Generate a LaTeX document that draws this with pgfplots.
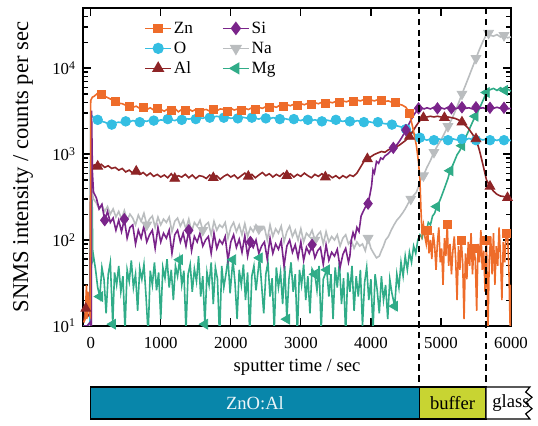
\documentclass[border=0pt]{standalone}
\usepackage{pgfplots}
\pgfplotsset{compat=1.18}
\usepackage{fontspec}
\setmainfont{Liberation Serif}
\definecolor{cZn}{RGB}{238,108,42}
\definecolor{cO}{RGB}{52,190,226}
\definecolor{cAl}{RGB}{142,36,38}
\definecolor{cSi}{RGB}{122,36,138}
\definecolor{cNa}{RGB}{186,189,191}
\definecolor{cMg}{RGB}{48,172,136}
\definecolor{cZnO}{RGB}{8,134,170}
\definecolor{cBuf}{RGB}{200,212,50}
\pgfplotsset{
  lZn/.style={color=cZn, line width=0.8pt, no markers},
  lO/.style={color=cO, line width=0.8pt, no markers},
  lAl/.style={color=cAl, line width=0.8pt, no markers},
  lSi/.style={color=cSi, line width=0.8pt, no markers},
  lNa/.style={color=cNa, line width=0.8pt, no markers},
  lMg/.style={color=cMg, line width=0.8pt, no markers},
  mZn/.style={color=cZn, mark=square*, mark size=2pt, mark options={solid, fill=cZn}},
  mO/.style={color=cO, mark=*, mark size=2.4pt, mark options={solid, fill=cO}},
  mAl/.style={color=cAl, mark=triangle*, mark size=2.8pt, mark options={solid, fill=cAl}},
  mSi/.style={color=cSi, mark=diamond*, mark size=2.8pt, mark options={solid, fill=cSi}},
  mNa/.style={color=cNa, mark=triangle*, mark size=2.8pt, mark options={solid, fill=cNa, rotate=180}},
  mMg/.style={color=cMg, mark=triangle*, mark size=2.8pt, mark options={solid, fill=cMg, rotate=90}},
}
\begin{document}
\begin{tikzpicture}[x=1pt,y=1pt]
\useasboundingbox (-41.5,-50) rectangle (227.5,163);
\begin{axis}[
  at={(0pt,0pt)}, anchor=south west,
  scale only axis, width=214pt, height=159pt,
  xmin=-110, xmax=6000,
  ymode=log, ymin=10, ymax=5e4,
  axis line style={line width=0.7pt},
  every tick/.style={black, line width=0.6pt},
  xtick={0,1000,2000,3000,4000,5000,6000},
  xticklabels={0,1000,2000,3000,4000,5000,6000},
  ytick={10,100,1000,10000},
  yticklabels={10\textsuperscript{1},10\textsuperscript{2},10\textsuperscript{3},10\textsuperscript{4}},
  minor ytick={20,30,40,50,60,70,80,90,200,300,400,500,600,700,800,900,2000,3000,4000,5000,6000,7000,8000,9000,20000,30000,40000},
  tick align=inside,
  major tick length=4pt, minor tick length=2.5pt,
  ticklabel style={font=\fontsize{8.4}{10}\selectfont},
  xticklabel style={yshift=-2pt},
  xlabel={sputter time / sec},
  ylabel={SNMS intensity / counts per sec},
  xlabel style={font=\fontsize{9.3}{11}\selectfont, at={(axis description cs:0.5,-0.129)}, anchor=center},
  ylabel style={font=\fontsize{11.3}{13}\selectfont, at={(axis description cs:-0.14,0.5)}, anchor=center},
  legend image code/.code={\draw[mark repeat=2, mark phase=2, line width=0.8pt, #1] plot coordinates {(0pt,0pt) (6.5pt,0pt) (13pt,0pt)};},
  legend columns=2,
  legend cell align=left,
  legend style={at={(axis description cs:0.1425,0.9686)}, anchor=north west, draw=none, fill=none, inner sep=0pt,
    font=\fontsize{8.6}{10}\selectfont, row sep=0pt,
    nodes={inner sep=1pt, text height=6.5pt, text depth=1.5pt},
    /tikz/every even column/.append style={column sep=13.5pt}},
]
\addlegendimage{mZn}
\addlegendimage{mSi}
\addlegendimage{mO}
\addlegendimage{mNa}
\addlegendimage{mAl}
\addlegendimage{mMg}
\legend{Zn,Si,O,Na,Al,Mg}

% ---------------- Mg ----------------
\addplot[lMg, forget plot] coordinates {
(-100,10)(-50,10)(-10,10)(5,11)(12,1500)(20,300)(30,60)(40,65)(70,45)(100,28)(130,22)(160,48)(190,35)(220,14)(250,40)(280,55)(315,10.5)(340,42)(370,30)(400,50)(430,25)(460,38)(490,9)(520,45)(550,33)(580,58)(610,28)(640,40)(670,15)(700,47)(730,35)(760,52)(790,22)(820,8)(850,44)(880,30)(910,55)(940,26)(970,42)(1000,12)(1030,48)(1060,36)(1090,60)(1120,28)(1150,45)(1180,20)(1210,50)(1240,38)(1270,59)(1300,30)(1330,44)(1360,9)(1390,40)(1420,52)(1450,25)(1480,46)(1510,33)(1540,65)(1570,22)(1600,38)(1630,10.5)(1660,42)(1690,30)(1720,55)(1750,18)(1780,48)(1810,35)(1840,7)(1870,50)(1900,28)(1930,40)(1960,60)(1990,24)(2030,59)(2060,32)(2090,12)(2120,45)(2150,30)(2180,52)(2210,20)(2240,42)(2270,8)(2300,38)(2330,50)(2360,26)(2390,44)(2410,62)(2440,30)(2470,14)(2500,40)(2530,55)(2560,22)(2590,36)(2620,9)(2650,48)(2680,28)(2710,42)(2740,18)(2770,50)(2800,12)(2830,35)(2860,55)(2890,25)(2920,40)(2950,8)(2980,45)(3010,30)(3040,52)(3070,20)(3100,38)(3130,14)(3160,46)(3200,40)(3230,26)(3260,50)(3290,9)(3320,35)(3370,45)(3400,22)(3430,40)(3460,12)(3490,48)(3520,28)(3550,55)(3580,18)(3610,36)(3640,8)(3670,42)(3700,25)(3730,50)(3760,15)(3790,38)(3820,22)(3850,45)(3880,10)(3910,32)(3940,48)(3970,20)(4000,35)(4030,9)(4060,40)(4090,26)(4120,14)(4150,38)(4180,20)(4210,30)(4240,12)(4270,35)(4300,24)(4340,17)(4370,40)(4400,28)(4430,55)(4460,38)(4490,65)(4520,45)(4550,72)(4580,55)(4610,85)(4640,70)(4670,100)(4700,115)(4730,105)(4760,135)(4790,125)(4820,160)(4850,150)(4880,190)(4910,205)(4940,245)(4970,270)(5000,310)(5050,400)(5100,520)(5130,640)(5180,780)(5230,980)(5270,1100)(5300,1250)(5350,1550)(5400,1900)(5450,2350)(5490,2750)(5550,3400)(5600,4200)(5650,5200)(5700,5600)(5750,5800)(5800,5500)(5850,5900)(5910,5500)(5950,5700)(6000,5400)
};
\addplot[mMg, only marks, forget plot] coordinates {
(130,22)(315,10.5)(1270,59)(1630,10.5)(2030,59)(2410,62)(2800,12)(3200,40)(3370,45)(4340,17)(4940,245)(5130,640)(5300,1250)(5490,2750)(5650,5200)(5910,5500)
};

% ---------------- Na ----------------
\addplot[lNa, forget plot] coordinates {
(-100,10)(-30,10)(8,10)(14,500)(30,330)(40,300)(80,270)(120,230)(160,255)(200,215)(240,245)(280,200)(320,230)(360,185)(400,215)(440,175)(480,220)(520,170)(560,200)(600,180)(640,150)(680,195)(720,165)(760,205)(800,150)(840,175)(880,190)(920,140)(960,185)(1000,150)(1040,175)(1080,160)(1120,185)(1160,125)(1200,165)(1240,180)(1280,145)(1320,170)(1360,135)(1400,175)(1440,125)(1480,160)(1520,145)(1560,170)(1600,130)(1640,150)(1680,160)(1720,115)(1760,165)(1800,130)(1840,150)(1880,140)(1920,160)(1960,105)(2000,140)(2040,160)(2080,125)(2120,150)(2160,115)(2200,155)(2240,110)(2280,140)(2320,125)(2360,150)(2400,135)(2440,130)(2480,140)(2520,100)(2560,150)(2600,110)(2640,135)(2680,120)(2720,145)(2760,95)(2800,125)(2840,145)(2880,110)(2920,130)(2960,100)(3000,135)(3040,95)(3080,120)(3120,110)(3160,130)(3200,100)(3240,115)(3280,125)(3320,90)(3360,125)(3400,95)(3440,110)(3480,100)(3520,115)(3560,85)(3600,105)(3640,115)(3680,90)(3720,100)(3760,80)(3800,95)(3840,85)(3880,90)(3920,75)(3960,105)(4000,80)(4040,70)(4080,62)(4120,65)(4150,75)(4180,85)(4210,100)(4250,110)(4290,130)(4330,150)(4370,170)(4410,185)(4450,205)(4490,230)(4530,265)(4570,300)(4610,330)(4650,360)(4680,420)(4710,500)(4750,560)(4800,700)(4850,840)(4900,1050)(4950,1250)(5000,1450)(5050,1750)(5100,2100)(5150,2500)(5200,3100)(5250,3900)(5300,5000)(5350,6300)(5400,8000)(5450,10200)(5500,13000)(5550,16500)(5600,20500)(5650,24500)(5680,25500)(5710,24000)(5750,23500)(5800,24500)(5850,23000)(5900,24000)(5950,22500)(6000,23000)
};
\addplot[mNa, only marks, forget plot] coordinates {
(800,150)(1600,130)(2400,135)(3200,100)(3960,105)(4570,300)(4750,560)(4900,1050)(5100,2100)(5300,5000)(5500,13000)(5680,25500)(5900,24000)
};

% ---------------- O ----------------
\addplot[lO, forget plot] coordinates {
(-100,10)(-50,10)(-10,11)(0,2900)(50,2600)(100,2500)(150,2400)(200,2350)(250,2250)(300,2200)(350,2300)(400,2350)(450,2300)(500,2400)(550,2350)(600,2450)(650,2400)(700,2350)(750,2450)(800,2400)(850,2500)(900,2450)(950,2400)(1000,2500)(1050,2450)(1100,2550)(1150,2500)(1200,2450)(1250,2550)(1300,2500)(1350,2600)(1400,2550)(1450,2600)(1500,2550)(1550,2650)(1600,2600)(1650,2700)(1700,2650)(1750,2700)(1800,2750)(1850,2700)(1900,2650)(1950,2700)(2000,2600)(2050,2650)(2100,2600)(2150,2700)(2200,2650)(2250,2600)(2300,2650)(2350,2600)(2400,2550)(2450,2650)(2500,2600)(2550,2550)(2600,2650)(2650,2600)(2700,2550)(2750,2600)(2800,2550)(2850,2500)(2900,2550)(2950,2500)(3000,2450)(3050,2550)(3100,2500)(3150,2450)(3200,2500)(3250,2450)(3300,2400)(3350,2500)(3400,2450)(3450,2400)(3500,2500)(3550,2450)(3600,2400)(3650,2450)(3700,2400)(3750,2350)(3800,2450)(3850,2400)(3900,2350)(3950,2400)(4000,2350)(4050,2300)(4100,2350)(4150,2300)(4200,2250)(4250,2250)(4300,2200)(4350,2150)(4400,2100)(4450,2050)(4500,1950)(4550,1850)(4600,1750)(4650,1650)(4700,1550)(4750,1500)(4800,1450)(4850,1500)(4900,1450)(4950,1520)(5000,1470)(5050,1500)(5100,1450)(5150,1520)(5200,1480)(5250,1450)(5300,1500)(5350,1460)(5400,1520)(5450,1470)(5500,1450)(5550,1500)(5600,1460)(5650,1500)(5700,1450)(5750,1480)(5800,1440)(5850,1490)(5900,1450)(5950,1470)(6000,1430)
};
\addplot[mO, only marks, forget plot] coordinates {
(100,2500)(300,2200)(500,2400)(700,2350)(900,2450)(1100,2550)(1300,2500)(1500,2550)(1700,2650)(1900,2650)(2100,2600)(2300,2650)(2500,2600)(2700,2550)(2900,2550)(3100,2500)(3300,2400)(3500,2500)(3700,2400)(3900,2350)(4100,2350)(4300,2200)(4500,1950)(4700,1550)(4900,1450)(5100,1450)(5300,1500)(5500,1450)(5700,1450)(5900,1450)
};

% ---------------- Al ----------------
\addplot[lAl, forget plot] coordinates {
(-100,11)(-70,16)(-40,13)(-10,14)(0,650)(50,750)(100,720)(150,760)(200,700)(250,730)(300,680)(350,700)(400,650)(450,680)(500,620)(550,650)(600,600)(650,630)(700,580)(750,610)(800,560)(850,600)(900,550)(950,580)(1000,540)(1050,570)(1100,530)(1150,590)(1200,520)(1250,560)(1300,540)(1350,580)(1400,530)(1450,570)(1500,520)(1550,560)(1600,550)(1650,520)(1700,570)(1750,530)(1800,560)(1850,510)(1900,550)(1950,580)(2000,540)(2050,570)(2100,520)(2150,560)(2200,600)(2250,550)(2300,580)(2350,530)(2400,570)(2450,610)(2500,560)(2550,590)(2600,540)(2650,580)(2700,550)(2750,600)(2800,560)(2850,590)(2900,540)(2950,580)(3000,550)(3050,600)(3100,560)(3150,530)(3200,580)(3250,550)(3300,590)(3350,540)(3400,570)(3450,530)(3500,560)(3550,520)(3600,560)(3650,530)(3700,570)(3750,550)(3800,600)(3850,700)(3900,820)(3950,880)(4000,930)(4050,990)(4100,1030)(4150,1070)(4200,1050)(4250,1120)(4300,1150)(4350,1200)(4400,1260)(4450,1350)(4500,1450)(4550,1600)(4600,1850)(4650,2150)(4700,2450)(4750,2650)(4800,2700)(4850,2750)(4900,2700)(4950,2750)(5000,2700)(5050,2650)(5100,2700)(5150,2650)(5200,2600)(5250,2500)(5300,2350)(5350,2150)(5400,1950)(5450,1700)(5500,1500)(5550,1100)(5600,750)(5650,500)(5700,420)(5750,370)(5800,340)(5850,325)(5900,320)(5950,310)(6000,300)
};
\addplot[mAl, only marks, forget plot] coordinates {
(-70,16)(100,720)(650,630)(1200,520)(1750,530)(2250,550)(2800,560)(3350,540)(3950,880)(4550,1600)(4750,2650)(5050,2650)(5300,2350)(5500,1500)(5700,420)(5950,310)
};

% ---------------- Si ----------------
\addplot[lSi, forget plot] coordinates {
(-100,10)(-50,10)(-10,11)(8,10)(12,3200)(25,600)(40,360)(80,310)(120,230)(160,260)(200,170)(240,215)(280,160)(320,180)(360,130)(400,170)(440,125)(480,175)(520,105)(560,140)(600,150)(640,90)(680,130)(720,105)(760,145)(800,95)(840,115)(880,130)(920,80)(960,140)(1000,95)(1040,120)(1080,105)(1120,130)(1160,70)(1200,115)(1240,130)(1280,95)(1320,120)(1360,85)(1400,130)(1440,75)(1480,110)(1520,95)(1560,120)(1600,85)(1640,100)(1680,110)(1720,70)(1760,120)(1800,80)(1840,100)(1880,90)(1920,110)(1960,58)(2000,95)(2040,115)(2080,82)(2120,102)(2160,72)(2200,112)(2240,65)(2280,95)(2320,82)(2360,100)(2400,70)(2440,85)(2480,95)(2520,60)(2560,105)(2600,70)(2640,90)(2680,78)(2720,98)(2760,50)(2800,85)(2840,100)(2880,72)(2920,88)(2960,62)(3000,95)(3040,58)(3080,82)(3120,70)(3160,88)(3200,62)(3240,75)(3280,82)(3320,52)(3360,88)(3400,58)(3440,72)(3480,65)(3520,78)(3560,48)(3600,68)(3640,80)(3680,55)(3700,65)(3720,100)(3745,122)(3770,105)(3800,140)(3830,125)(3860,190)(3890,215)(3920,240)(3960,265)(3990,350)(4010,430)(4030,650)(4050,600)(4080,820)(4110,780)(4140,900)(4170,870)(4200,950)(4240,1000)(4280,1080)(4320,1180)(4360,1250)(4400,1380)(4450,1600)(4500,1900)(4550,2300)(4600,2750)(4650,3150)(4680,3400)(4720,3450)(4760,3350)(4800,3450)(4850,3350)(4900,3500)(4950,3400)(5000,3450)(5050,3350)(5100,3500)(5150,3400)(5200,3350)(5250,3450)(5300,3500)(5350,3400)(5400,3450)(5450,3350)(5500,3500)(5550,3400)(5600,3450)(5650,3350)(5700,3450)(5750,3400)(5800,3500)(5850,3400)(5900,3450)(5950,3350)(6000,3400)
};
\addplot[mSi, only marks, forget plot] coordinates {
(200,170)(480,175)(1400,130)(2280,95)(3160,88)(3960,265)(4320,1180)(4500,1900)(4680,3400)(4950,3400)(5150,3400)(5300,3500)(5500,3500)(5700,3450)(5900,3450)
};

% ---------------- Zn ----------------
\addplot[lZn, forget plot] coordinates {
(-100,11)(-80,12)(-60,30)(-55,12)(-40,25)(-20,14)(-5,13)(0,4200)(25,4600)(50,4700)(75,4900)(100,5100)(125,5200)(150,5000)(175,4800)(200,4700)(250,4500)(300,4300)(350,4100)(400,3900)(450,3850)(500,3700)(550,3600)(600,3500)(650,3600)(700,3400)(750,3500)(800,3300)(850,3450)(900,3250)(950,3400)(1000,3300)(1050,3150)(1100,3350)(1150,3200)(1200,3400)(1250,3100)(1300,3300)(1350,3200)(1400,3350)(1450,3150)(1500,3300)(1550,3050)(1600,3250)(1650,3300)(1700,3150)(1750,3350)(1800,3200)(1850,3350)(1900,3300)(1950,3100)(2000,3400)(2050,3250)(2100,3350)(2150,3200)(2200,3400)(2250,3300)(2300,3450)(2350,3350)(2400,3500)(2450,3400)(2500,3550)(2550,3450)(2600,3600)(2650,3500)(2700,3700)(2750,3600)(2800,3750)(2850,3650)(2900,3800)(2950,3700)(3000,3850)(3050,3750)(3100,3900)(3150,3800)(3200,3950)(3250,3850)(3300,4000)(3350,3900)(3400,4050)(3450,3950)(3500,4100)(3550,4000)(3600,4150)(3650,4050)(3700,4200)(3750,4100)(3800,4250)(3850,4150)(3900,4300)(3950,4200)(4000,4250)(4050,4150)(4100,4300)(4150,4200)(4200,4100)(4250,4150)(4300,4000)(4350,3950)(4400,3800)(4450,3700)(4500,3500)(4550,3000)(4600,2000)(4650,1250)(4680,800)(4700,500)(4715,220)(4730,120)(4750,150)(4770,110)(4790,90)(4810,130)(4830,70)(4850,100)(4870,60)(4890,120)(4910,85)(4930,45)(4950,95)(4970,140)(4990,55)(5010,80)(5030,30)(5050,105)(5070,65)(5090,150)(5110,50)(5130,90)(5150,40)(5170,75)(5190,110)(5210,60)(5230,20)(5250,85)(5270,45)(5290,100)(5310,55)(5330,12)(5350,70)(5370,35)(5390,95)(5410,50)(5430,120)(5450,40)(5470,80)(5490,60)(5510,15)(5530,90)(5550,55)(5570,130)(5590,45)(5610,75)(5630,25)(5650,100)(5670,8)(5690,60)(5710,110)(5730,40)(5750,120)(5770,30)(5790,85)(5810,50)(5830,140)(5850,65)(5870,20)(5890,95)(5910,55)(5930,120)(5950,120)(5970,45)(5990,8)(6000,30)
};
\addplot[mZn, only marks, forget plot] coordinates {
(150,5000)(350,4100)(550,3600)(750,3500)(950,3400)(1150,3200)(1350,3200)(1550,3050)(1750,3350)(1950,3100)(2150,3200)(2350,3350)(2550,3450)(2750,3600)(2950,3700)(3150,3800)(3350,3900)(3550,4000)(3750,4100)(3950,4200)(4150,4200)(4350,3950)(4550,3000)(4810,130)(5090,150)(5290,100)(5470,80)(5650,100)(5930,120)
};

\coordinate (d1) at (axis cs:4690,5e4);
\coordinate (d2) at (axis cs:5643,5e4);
\end{axis}

\begin{axis}[
  at={(0pt,-46.5pt)}, anchor=south west,
  scale only axis, width=214pt, height=16pt,
  xmin=-110, xmax=6000, ymin=0, ymax=1,
  hide axis, clip=false,
]
\filldraw[fill=cZnO, draw=black, line width=0.6pt] (axis cs:0,0) rectangle (axis cs:4690,1);
\filldraw[fill=cBuf, draw=black, line width=0.6pt] (axis cs:4690,0) rectangle (axis cs:5643,1);
\filldraw[fill=white, draw=black, line width=0.6pt] (axis cs:5643,0) -- (axis cs:5643,1) -- (axis cs:6270,1) -- (axis cs:6210,0.84) -- (axis cs:6300,0.68) -- (axis cs:6210,0.5) -- (axis cs:6300,0.32) -- (axis cs:6210,0.16) -- (axis cs:6270,0) -- cycle;
\node[font=\fontsize{9.3}{11}\selectfont, text=white!92!cZnO] at (axis cs:2345,0.5) {ZnO:Al};
\node[font=\fontsize{9.3}{11}\selectfont] at (axis cs:5166,0.5) {buffer};
\node[font=\fontsize{9.3}{11}\selectfont] at (axis cs:6000,0.5) {glass};
\end{axis}

\draw[black, line width=0.75pt, dash pattern=on 3.2pt off 2.2pt] (d1) -- (d1 |- 0,-30.5);
\draw[black, line width=0.75pt, dash pattern=on 3.2pt off 2.2pt] (d2) -- (d2 |- 0,-30.5);
\end{tikzpicture}
\end{document}
